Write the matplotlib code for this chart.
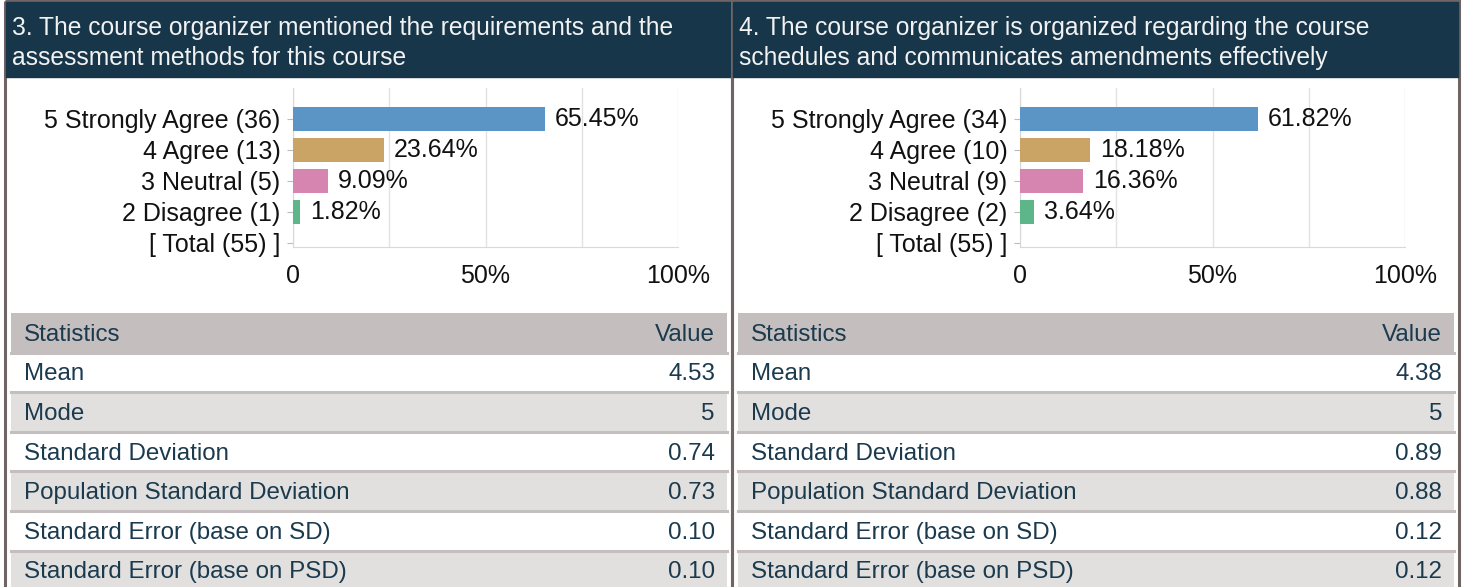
import numpy as np
import matplotlib.pyplot as plt
from matplotlib.patches import Rectangle

plt.rcParams['font.family'] = ['Liberation Sans', 'DejaVu Sans']

# chart data
answers = ['5 Strongly Agree', '4 Agree', '3 Neutral', '2 Disagree']
q3_title = '3. The course organizer mentioned the requirements and the\nassessment methods for this course'
q3_counts = [36, 13, 5, 1]
q3_pct = [65.45, 23.64, 9.09, 1.82]
q3_total = 55
q4_title = '4. The course organizer is organized regarding the course\nschedules and communicates amendments effectively'
q4_counts = [34, 10, 9, 2]
q4_pct = [61.82, 18.18, 16.36, 3.64]
q4_total = 55
bar_colors = ['#5b95c5', '#c9a464', '#d685b1', '#5db58a']

stat_names = ['Mean', 'Mode', 'Standard Deviation', 'Population Standard Deviation',
              'Standard Error (base on SD)', 'Standard Error (base on PSD)']
q3_stats = ['4.53', '5', '0.74', '0.73', '0.10', '0.10']
q4_stats = ['4.38', '5', '0.89', '0.88', '0.12', '0.12']

W, H = 1465, 587
fig = plt.figure(figsize=(W / 100, H / 100), dpi=100)
bg = fig.add_axes([0, 0, 1, 1])
bg.set_xlim(0, W)
bg.set_ylim(H, 0)
bg.axis('off')

navy = '#17364a'
border = '#6f6565'
txt = '#1b3a4e'
fs_chart = 18
fs_title = 17.7
fs_tab = 17.4


def panel(x0, title, counts, pct, total, stats):
    # outer border
    bg.add_patch(Rectangle((x0 - 1, 1), 727, H + 5, fill=False, ec=border, lw=2.2))
    # title band
    bg.add_patch(Rectangle((x0, 2), 725, 75, color=navy))
    bg.text(x0 + 6, 43, title, color='#f2f2f2', fontsize=fs_title, va='center', ha='left',
            linespacing=1.3)

    # bar chart
    ax = fig.add_axes([(x0 + 287) / W, 1 - 247 / H, 385 / W, 159 / H])
    y = np.arange(len(counts))
    ax.barh(y, pct, height=0.78, color=bar_colors, zorder=3)
    for yi, p in zip(y, pct):
        ax.annotate('%.2f%%' % p, (p, yi), xytext=(7, 0), textcoords='offset points',
                    va='center', ha='left', fontsize=fs_chart, color='#111111')
    labels = ['%s (%d)' % (a, c) for a, c in zip(answers, counts)] + ['[ Total (%d) ]' % total]
    ax.set_yticks(np.arange(len(labels)))
    ax.set_yticklabels(labels, fontsize=fs_chart, color='#111111')
    ax.set_ylim(4.13, -1.0)
    ax.set_xlim(0, 100)
    ax.set_xticks([0, 25, 50, 75, 100])
    ax.set_xticklabels(['0', '', '50%', '', '100%'], fontsize=fs_chart, color='#111111')
    ax.tick_params(axis='x', length=0, pad=12)
    ax.tick_params(axis='y', length=4, color='#bbbbbb', pad=5)
    ax.grid(axis='x', color='#e2e2e2', lw=1, zorder=0)
    for s in ['top', 'right']:
        ax.spines[s].set_visible(False)
    for s in ['left', 'bottom']:
        ax.spines[s].set_color('#d8d8d8')
    ax.set_facecolor('none')

    # statistics table
    tx0, tx1 = x0 + 5, x0 + 721
    rows = [('Statistics', 'Value')] + list(zip(stat_names, stats))
    top = 313
    rh = 39.6
    for i, (name, val) in enumerate(rows):
        yt = top + i * rh
        if i == 0:
            c = '#c4bebe'
        elif i % 2 == 0:
            c = '#e1e0df'
        else:
            c = 'white'
        bg.add_patch(Rectangle((tx0, yt), tx1 - tx0, rh, color=c, lw=0))
        if i > 0:
            bg.plot([tx0, tx1], [yt, yt], color='#c4bebe', lw=2.2)
        bg.text(tx0 + 13, yt + rh / 2 + 2, name, color=txt, fontsize=fs_tab, va='center', ha='left')
        bg.text(tx1 - 12, yt + rh / 2 + 2, val, color=txt, fontsize=fs_tab, va='center', ha='right')


panel(6, q3_title, q3_counts, q3_pct, q3_total, q3_stats)
panel(733, q4_title, q4_counts, q4_pct, q4_total, q4_stats)

fig.savefig('out.png', dpi=100)
